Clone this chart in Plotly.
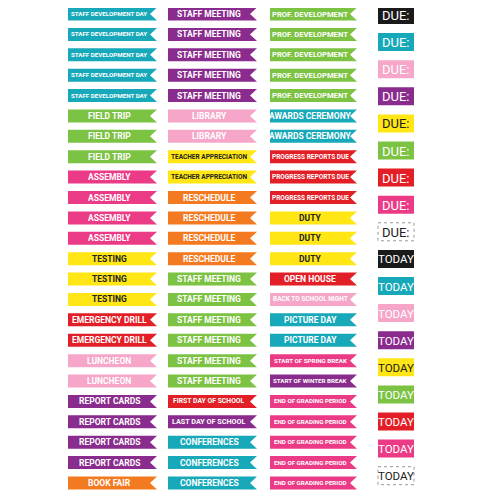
import plotly.graph_objects as go

TEAL="#17a9b9"; GREEN="#7cc243"; PINK="#ec3b86"; YELLOW="#ffe614"; RED="#e21f26"
LPINK="#f6a6c8"; PURPLE="#8a2b8e"; ORANGE="#f47a21"; BLACK="#1a1a1a"; WHITE="#ffffff"

col1_labels = ["STAFF DEVELOPMENT DAY"]*5 + ["FIELD TRIP"]*3 + ["ASSEMBLY"]*4 + ["TESTING"]*3 + \
    ["EMERGENCY DRILL"]*2 + ["LUNCHEON"]*2 + ["REPORT CARDS"]*4 + ["BOOK FAIR"]
col1_colors = [TEAL]*5 + [GREEN]*3 + [PINK]*4 + [YELLOW]*3 + [RED]*2 + [LPINK]*2 + [PURPLE]*4 + [ORANGE]
col2_labels = ["STAFF MEETING"]*5 + ["LIBRARY"]*2 + ["TEACHER APPRECIATION"]*2 + ["RESCHEDULE"]*4 + \
    ["STAFF MEETING"]*6 + ["FIRST DAY OF SCHOOL", "LAST DAY OF SCHOOL"] + ["CONFERENCES"]*3
col2_colors = [PURPLE]*5 + [LPINK]*2 + [YELLOW]*2 + [ORANGE]*4 + [GREEN]*6 + [RED, PURPLE] + [TEAL]*3
col3_labels = ["PROF. DEVELOPMENT"]*5 + ["AWARDS CEREMONY"]*2 + ["PROGRESS REPORTS DUE"]*3 + ["DUTY"]*3 + \
    ["OPEN HOUSE", "BACK TO SCHOOL NIGHT"] + ["PICTURE DAY"]*2 + ["START OF SPRING BREAK", "START OF WINTER BREAK"] + \
    ["END OF GRADING PERIOD"]*5
col3_colors = [GREEN]*5 + [TEAL]*2 + [RED]*3 + [YELLOW]*3 + [RED, LPINK] + [TEAL]*2 + [PINK, PURPLE] + [PINK]*5
col4_labels = ["DUE:"]*9 + ["TODAY"]*9
col4_colors = [BLACK, TEAL, LPINK, PURPLE, YELLOW, GREEN, RED, PINK, WHITE]*2

FONT = "Roboto, Liberation Sans, Arial"
fig = go.Figure()
shapes, ann = [], []

def txtcol(c):
    return "#222" if c in (YELLOW, WHITE) else "white"

cols = [(col1_labels, col1_colors, 68, 157), (col2_labels, col2_colors, 168, 257), (col3_labels, col3_colors, 270, 357)]
for labels, colors, x0, x1 in cols:
    for i, (lab, c) in enumerate(zip(labels, colors)):
        yc = 14 + i * 20.39
        h = 6.5
        path = f"M{x0},{yc-h} L{x1},{yc-h} L{x1-7},{yc} L{x1},{yc+h} L{x0},{yc+h} Z"
        shapes.append(dict(type="path", path=path, fillcolor=c, line=dict(width=0), xref="x", yref="y"))
        size = min(8.5, 78 / (len(lab) * 0.6))
        ann.append(dict(x=(x0 + x1 - 7) / 2, y=yc, text=f"<b>{lab}</b>", showarrow=False, xref="x", yref="y",
                        font=dict(family=FONT, size=size, color=txtcol(c))))

for i, (lab, c) in enumerate(zip(col4_labels, col4_colors)):
    yc = 15 + i * 27.1
    shapes.append(dict(type="rect", x0=378, x1=414, y0=yc-9, y1=yc+9, fillcolor=c,
                       line=dict(width=0 if c != WHITE else 1, color="#999", dash="dot"), xref="x", yref="y"))
    ann.append(dict(x=396, y=yc + 0.5, text=lab, showarrow=False, xref="x", yref="y",
                    font=dict(family=FONT, size=13 if lab == "DUE:" else 11.5, color=txtcol(c))))

fig.update_layout(width=500, height=500, margin=dict(l=0, r=0, t=0, b=0),
                  paper_bgcolor="white", plot_bgcolor="white", shapes=shapes, annotations=ann,
                  xaxis=dict(range=[8, 508], visible=False, fixedrange=True),
                  yaxis=dict(range=[508, 8], visible=False, fixedrange=True), showlegend=False)
fig.write_html("out.html")
